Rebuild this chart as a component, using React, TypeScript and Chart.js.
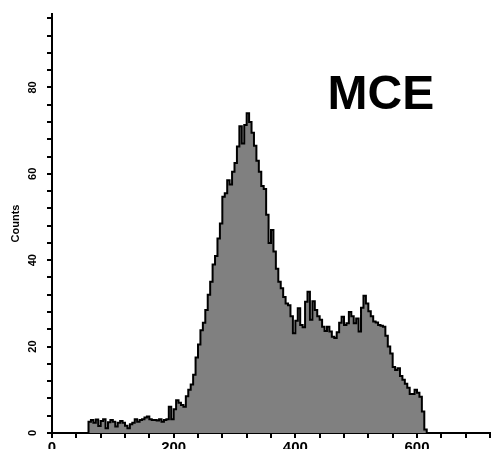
import React, { useEffect, useRef } from 'react';
import { Chart, registerables } from 'chart.js';

Chart.register(...registerables);

// Histogram bin left edges (channel units)
const binStarts = [
  60, 64, 68, 72, 76, 80, 84, 88, 92, 96,
  100, 104, 108, 112, 116, 120, 124, 128, 132, 136,
  140, 144, 148, 152, 156, 160, 164, 168, 172, 176,
  180, 184, 188, 192, 196, 200, 204, 208, 212, 216,
  220, 224, 228, 232, 236, 240, 244, 248, 252, 256,
  260, 264, 268, 272, 276, 280, 284, 288, 292, 296,
  300, 304, 308, 312, 316, 320, 324, 328, 332, 336,
  340, 344, 348, 352, 356, 360, 364, 368, 372, 376,
  380, 384, 388, 392, 396, 400, 404, 408, 412, 416,
  420, 424, 428, 432, 436, 440, 444, 448, 452, 456,
  460, 464, 468, 472, 476, 480, 484, 488, 492, 496,
  500, 504, 508, 512, 516, 520, 524, 528, 532, 536,
  540, 544, 548, 552, 556, 560, 564, 568, 572, 576,
  580, 584, 588, 592, 596, 600, 604, 608, 612, 616,
];

// Counts per bin
const counts = [
  2.6, 3.0, 2.4, 3.1, 1.6, 2.8, 3.2, 1.1, 2.5, 3.0,
  2.6, 1.5, 2.4, 2.8, 2.4, 1.7, 1.1, 2.0, 2.4, 3.2,
  2.6, 3.0, 3.2, 3.6, 3.8, 3.2, 3.0, 3.0, 2.9, 3.2,
  2.6, 3.0, 3.2, 6.1, 3.2, 5.5, 7.6, 7.0, 6.5, 6.1,
  8.5, 10.0, 11.2, 13.5, 17.5, 20.5, 23.8, 25.5, 28.5, 32.0,
  35.0, 39.0, 41.0, 45.0, 48.5, 54.7, 55.5, 58.5, 57.5, 60.5,
  62.5, 66.3, 71.0, 67.0, 71.3, 74.0, 72.0, 69.5, 66.5, 63.0,
  60.5, 57.2, 56.5, 50.5, 44.0, 47.0, 42.0, 38.0, 35.0, 33.5,
  31.5, 30.0, 29.6, 27.0, 23.1, 26.0, 28.9, 25.0, 24.5, 30.4,
  32.7, 26.2, 30.5, 28.5, 27.0, 26.2, 24.6, 23.6, 24.6, 23.5,
  22.3, 22.0, 23.3, 25.5, 26.9, 25.0, 25.4, 28.0, 27.0, 25.4,
  26.5, 23.5, 29.0, 31.8, 30.0, 28.2, 27.0, 25.8, 25.6, 25.0,
  24.8, 24.6, 22.5, 20.0, 18.4, 15.3, 14.6, 15.0, 13.2, 12.3,
  11.4, 10.5, 9.0, 9.0, 10.0, 9.3, 8.4, 5.0, 0.8, 0,
];

const xTickLabels = [0, 200, 400, 600];
const yTickLabels = [0, 20, 40, 60, 80];
const X_MIN = 0;
const X_MAX = 720;
const Y_MIN = 0;
const Y_MAX = 97;
const X_MINOR_STEP = 40;
const Y_MINOR_STEP = 4;
const annotationText = 'MCE';
const annotationX = 453;
const annotationY = 75;

const FONT = '"Liberation Sans", Arial, sans-serif';

const overlayPlugin = {
  id: 'overlay',
  afterDraw(chart: any) {
    const ctx = chart.ctx as CanvasRenderingContext2D;
    const xs = chart.scales.x;
    const ys = chart.scales.y;
    ctx.save();
    ctx.fillStyle = '#000';
    ctx.font = `bold 11px ${FONT}`;
    ctx.textAlign = 'center';
    ctx.textBaseline = 'middle';
    for (const v of yTickLabels) {
      const py = ys.getPixelForValue(v);
      ctx.save();
      ctx.translate(ys.right - 19.5, py);
      ctx.rotate(-Math.PI / 2);
      ctx.fillText(String(v), 0, 0);
      ctx.restore();
    }
    ctx.font = `bold 48px ${FONT}`;
    ctx.textAlign = 'left';
    ctx.textBaseline = 'alphabetic';
    ctx.fillText(annotationText, xs.getPixelForValue(annotationX), ys.getPixelForValue(annotationY));
    ctx.restore();
  },
};

export default function App() {
  const ref = useRef<HTMLCanvasElement | null>(null);

  useEffect(() => {
    if (!ref.current) return;
    const points = [{ x: binStarts[0], y: 0 }, ...binStarts.map((x, i) => ({ x, y: counts[i] }))];
    const chart = new Chart(ref.current, {
      type: 'line',
      data: {
        datasets: [
          {
            data: points,
            stepped: true,
            fill: 'origin',
            backgroundColor: '#808080',
            borderColor: '#000000',
            borderWidth: 2,
            pointRadius: 0,
            tension: 0,
          },
        ],
      },
      options: {
        responsive: false,
        animation: false,
        events: [],
        layout: { padding: { left: 0, top: 14, right: 4, bottom: 0 } },
        plugins: {
          legend: { display: false },
          tooltip: { enabled: false },
          title: { display: false },
        },
        scales: {
          x: {
            type: 'linear',
            min: X_MIN,
            max: X_MAX,
            afterFit: (s: any) => {
              s.height = 16;
            },
            border: { display: true, color: '#000', width: 2 },
            grid: {
              drawOnChartArea: false,
              drawTicks: true,
              tickLength: 5,
              color: '#000',
              lineWidth: 2,
            },
            ticks: {
              stepSize: X_MINOR_STEP,
              autoSkip: false,
              maxRotation: 0,
              minRotation: 0,
              includeBounds: false,
              padding: 1,
              color: '#000',
              font: { family: FONT, size: 15, weight: 'bold' },
              callback: (v: any) => (xTickLabels.includes(Number(v)) ? String(v) : ''),
            },
          },
          y: {
            type: 'linear',
            min: Y_MIN,
            max: Y_MAX,
            afterFit: (s: any) => {
              s.width = 52;
            },
            border: { display: true, color: '#000', width: 2 },
            grid: {
              drawOnChartArea: false,
              drawTicks: true,
              tickLength: 5,
              color: '#000',
              lineWidth: 2,
            },
            ticks: {
              display: false,
              stepSize: Y_MINOR_STEP,
              autoSkip: false,
              includeBounds: false,
            },
            title: {
              display: true,
              text: 'Counts',
              color: '#000',
              font: { family: '"Liberation Sans Narrow", "Liberation Sans", Arial, sans-serif', size: 11, weight: 'bold' },
              padding: { top: 9, bottom: 9 },
            },
          },
        },
      },
      plugins: [overlayPlugin],
    });
    return () => chart.destroy();
  }, []);

  return (
    <div style={{ position: 'fixed', left: 0, top: 0, width: 494, height: 449, background: '#fff' }}>
      <canvas ref={ref} width={494} height={449} style={{ display: 'block' }} />
    </div>
  );
}
